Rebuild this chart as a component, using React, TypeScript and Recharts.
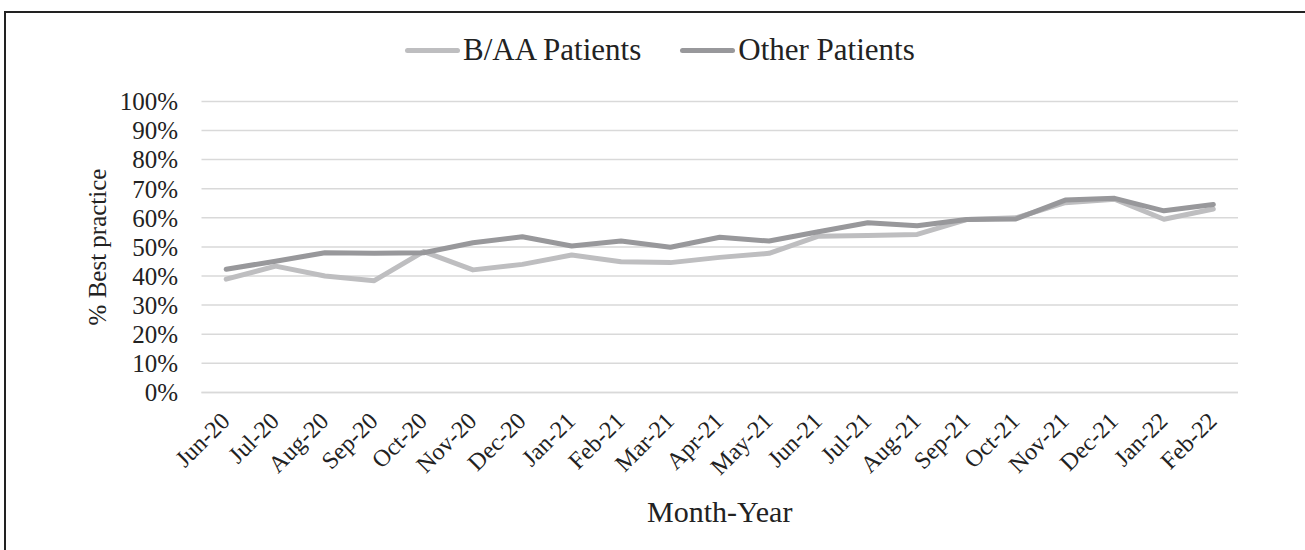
import { LineChart, Line, XAxis, YAxis, CartesianGrid, Label } from 'recharts';

const months = [
  'Jun-20', 'Jul-20', 'Aug-20', 'Sep-20', 'Oct-20', 'Nov-20', 'Dec-20',
  'Jan-21', 'Feb-21', 'Mar-21', 'Apr-21', 'May-21', 'Jun-21', 'Jul-21',
  'Aug-21', 'Sep-21', 'Oct-21', 'Nov-21', 'Dec-21', 'Jan-22', 'Feb-22',
];

const baaPatients = [
  38.9, 43.4, 40.0, 38.4, 48.4, 42.1, 44.0, 47.2, 44.9, 44.6, 46.4,
  47.8, 53.7, 53.9, 54.3, 59.4, 60.0, 65.2, 66.4, 59.5, 63.0,
];

const otherPatients = [
  42.3, 45.1, 48.0, 47.8, 48.0, 51.4, 53.5, 50.3, 52.0, 49.9, 53.3,
  52.0, 55.2, 58.3, 57.3, 59.4, 59.6, 66.1, 66.7, 62.4, 64.6,
];

const yTicks = [0, 10, 20, 30, 40, 50, 60, 70, 80, 90, 100];

const series = [
  { key: 'baa', name: 'B/AA Patients', color: '#BEBEC0' },
  { key: 'other', name: 'Other Patients', color: '#98989B' },
];

const data = months.map((m, i) => ({ month: m, baa: baaPatients[i], other: otherPatients[i] }));

const FONT = '"Liberation Serif", "Times New Roman", serif';
const TEXT = '#222';

function MonthTick(props: any) {
  const { x, y, payload } = props;
  return (
    <text
      x={x + 5}
      y={y + 30}
      textAnchor="end"
      fontFamily={FONT}
      fontSize={24}
      fill={TEXT}
      transform={`rotate(-45 ${x + 5} ${y + 30})`}
    >
      {payload.value}
    </text>
  );
}

export default function App() {
  return (
    <div style={{ position: 'absolute', left: 0, top: 0, width: 1305, height: 550, background: '#fff', overflow: 'hidden' }}>
      <div
        style={{
          position: 'absolute',
          left: 4,
          top: 11,
          width: 1310,
          height: 560,
          borderTop: '2px solid #222',
          borderLeft: '2px solid #222',
        }}
      />
      {/* legend */}
      <div
        style={{
          position: 'absolute',
          left: 405,
          top: 30,
          height: 40,
          display: 'flex',
          alignItems: 'center',
          fontFamily: FONT,
          fontSize: 31,
          color: TEXT,
        }}
      >
        {series.map((s, i) => (
          <div key={s.key} style={{ display: 'flex', alignItems: 'center', marginRight: i === 0 ? 39 : 0 }}>
            <div style={{ width: 55, height: 5, borderRadius: 3, background: s.color, marginRight: 3 }} />
            <span>{s.name}</span>
          </div>
        ))}
      </div>
      <div style={{ position: 'absolute', left: 0, top: 0 }}>
        <LineChart width={1305} height={550} data={data} margin={{ top: 101.4, right: 67, bottom: 27.6, left: 0 }}>
          <CartesianGrid vertical={false} stroke="#D9D9D9" strokeWidth={1.5} />
          <XAxis
            dataKey="month"
            interval={0}
            padding={{ left: 24.7, right: 24.7 }}
            height={130}
            tickLine={false}
            tickSize={0}
            tickMargin={0}
            axisLine={{ stroke: '#D9D9D9', strokeWidth: 1.5 }}
            tick={<MonthTick />}
          >
            <Label
              value="Month-Year"
              position="insideBottom"
              offset={0}
              style={{ fontFamily: FONT, fontSize: 30, fill: TEXT }}
            />
          </XAxis>
          <YAxis
            width={201.5}
            domain={[0, 100]}
            ticks={yTicks}
            interval={0}
            axisLine={false}
            tickLine={false}
            tickSize={6}
            tickMargin={17.5}
            tickFormatter={(v: number) => `${v}%`}
            tick={{ fontFamily: FONT, fontSize: 25, fill: TEXT }}
          >
            <Label
              content={() => (
                <text
                  x={97}
                  y={247}
                  textAnchor="middle"
                  dominantBaseline="central"
                  transform="rotate(-90 97 247)"
                  fontFamily={FONT}
                  fontSize={25}
                  fill={TEXT}
                >
                  % Best practice
                </text>
              )}
            />
          </YAxis>
          {series.map((s) => (
            <Line
              key={s.key}
              type="linear"
              dataKey={s.key}
              name={s.name}
              stroke={s.color}
              strokeWidth={5}
              strokeLinecap="round"
              strokeLinejoin="round"
              dot={false}
              activeDot={false}
              isAnimationActive={false}
            />
          ))}
        </LineChart>
      </div>
    </div>
  );
}
